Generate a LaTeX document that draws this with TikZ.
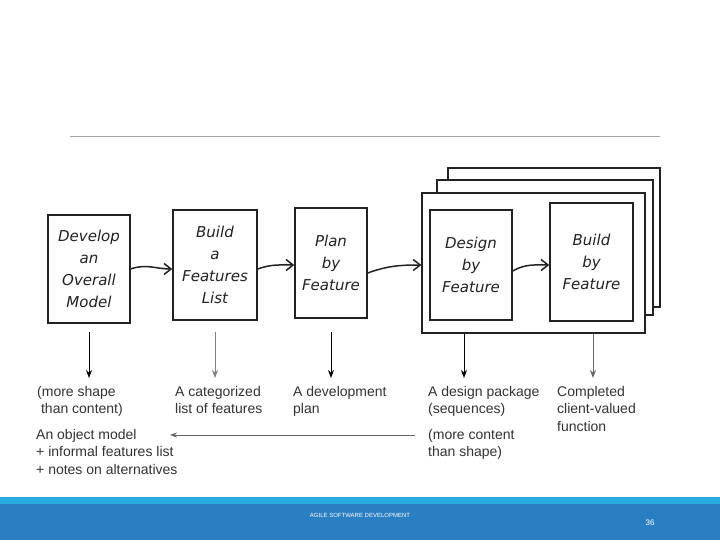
\documentclass[tikz,border=0pt]{standalone}
\usepackage{fontspec}
\setmainfont{Liberation Sans}
\newfontfamily\handfont{DejaVu Sans}
\usetikzlibrary{arrows.meta,positioning}
\definecolor{barlight}{HTML}{29ABE2}
\definecolor{bardark}{HTML}{2A7FC2}
\definecolor{ink}{HTML}{222222}
\definecolor{labelgrey}{HTML}{333333}
\tikzset{
  sketch/.style={draw=ink, line width=1.5pt, fill=white, inner sep=2pt, align=center,
    font=\handfont\fontsize{15}{22}\selectfont\itshape, text=ink},
  sheet/.style={draw=ink, line width=1.2pt, fill=white},
  flow/.style={draw=ink, line width=1.5pt, -{Straight Barb[length=7pt,width=11pt,line width=1.5pt]}},
  down/.style={draw=black, line width=1pt, -{Stealth[length=8pt,width=6pt]}},
  lbl/.style={anchor=north west, align=left, inner sep=0pt, text=labelgrey,
    font=\fontsize{14}{17.5}\selectfont},
}
\begin{document}
\begin{tikzpicture}[x=1pt,y=-1pt]
\useasboundingbox (0,0) rectangle (720,540);
\fill[white] (0,0) rectangle (720,540);
% top rule
\draw[gray!70, line width=0.8pt] (70,136) coordinate (r1) -- (660,136) coordinate (r2);
% footer
\fill[barlight] (0,497) rectangle (720,504);
\fill[bardark] (0,504) rectangle (720,540);
\node[text=white, font=\fontsize{6}{7}\selectfont] (foot) at (360,515) {AGILE SOFTWARE DEVELOPMENT};
\node[text=white, font=\fontsize{8}{9}\selectfont] (num) at (650,523) {36};
% stacked sheets
\draw[sheet] (448,168) rectangle (660,307);
\draw[sheet] (437,180) rectangle (653,315);
\node[sheet, minimum width=223pt, minimum height=140pt, inner sep=0pt] (big) at (533.5,263) {};
% boxes
\node[sketch, minimum width=82pt, minimum height=108pt] (b1) at (89,269) {Develop\\an\\Overall\\Model};
\node[sketch, minimum width=84pt, minimum height=110pt] (b2) at (215,265) {Build\\a\\Features\\List};
\node[sketch, minimum width=72pt, minimum height=110pt] (b3) at (331,263) {Plan\\by\\Feature};
\node[sketch, minimum width=82pt, minimum height=110pt] (b4) at (471,265) {Design\\by\\Feature};
\node[sketch, minimum width=83pt, minimum height=118pt] (b5) at (591.5,262) {Build\\by\\Feature};
% flow arrows
\draw[flow] (b1.east) to[out=20,in=180] ([yshift=-4pt]b2.west);
\draw[flow] ([yshift=-4pt]b2.east) to[out=20,in=180] ([yshift=-2pt]b3.west);
\draw[flow] ([yshift=-10pt]b3.east) to[out=20,in=180] ([yshift=-2pt]big.west);
\draw[flow] ([yshift=-6pt]b4.east) to[out=30,in=180] ([yshift=-3pt]b5.west);
% labels
\node[lbl] (l1) at (37,386) {(more shape\\\ than content)};
\node[lbl] (l2) at (175,386) {A categorized\\list of features};
\node[lbl] (l3) at (293,386) {A development\\plan};
\node[lbl] (l4) at (428,386) {A design package\\(sequences)};
\node[lbl] (l5) at (557,386) {Completed\\client-valued\\function};
\node[lbl] (l6) at (428,429) {(more content\\than shape)};
\node[lbl] (l7) at (36,429) {An object model\\+ informal features list\\+ notes on alternatives};
% down arrows
\draw[down] (b1.south |- 0,332) -- (b1.south |- 0,378);
\draw[down, draw=gray] (b2.south |- 0,332) -- (b2.south |- 0,378);
\draw[down] (b3.south |- 0,332) -- (b3.south |- 0,378);
\draw[down] (464,334) coordinate (d4) -- (464,378);
\draw[down, draw=gray!80!black] (593,334) coordinate (d5) -- (593,378);
% return arrow
\coordinate (rs) at (415,435);
\draw[draw=gray!80!black, line width=0.9pt, -{Stealth[length=7pt,width=5pt]}] (rs) -- (170,435);
\end{tikzpicture}
\end{document}
